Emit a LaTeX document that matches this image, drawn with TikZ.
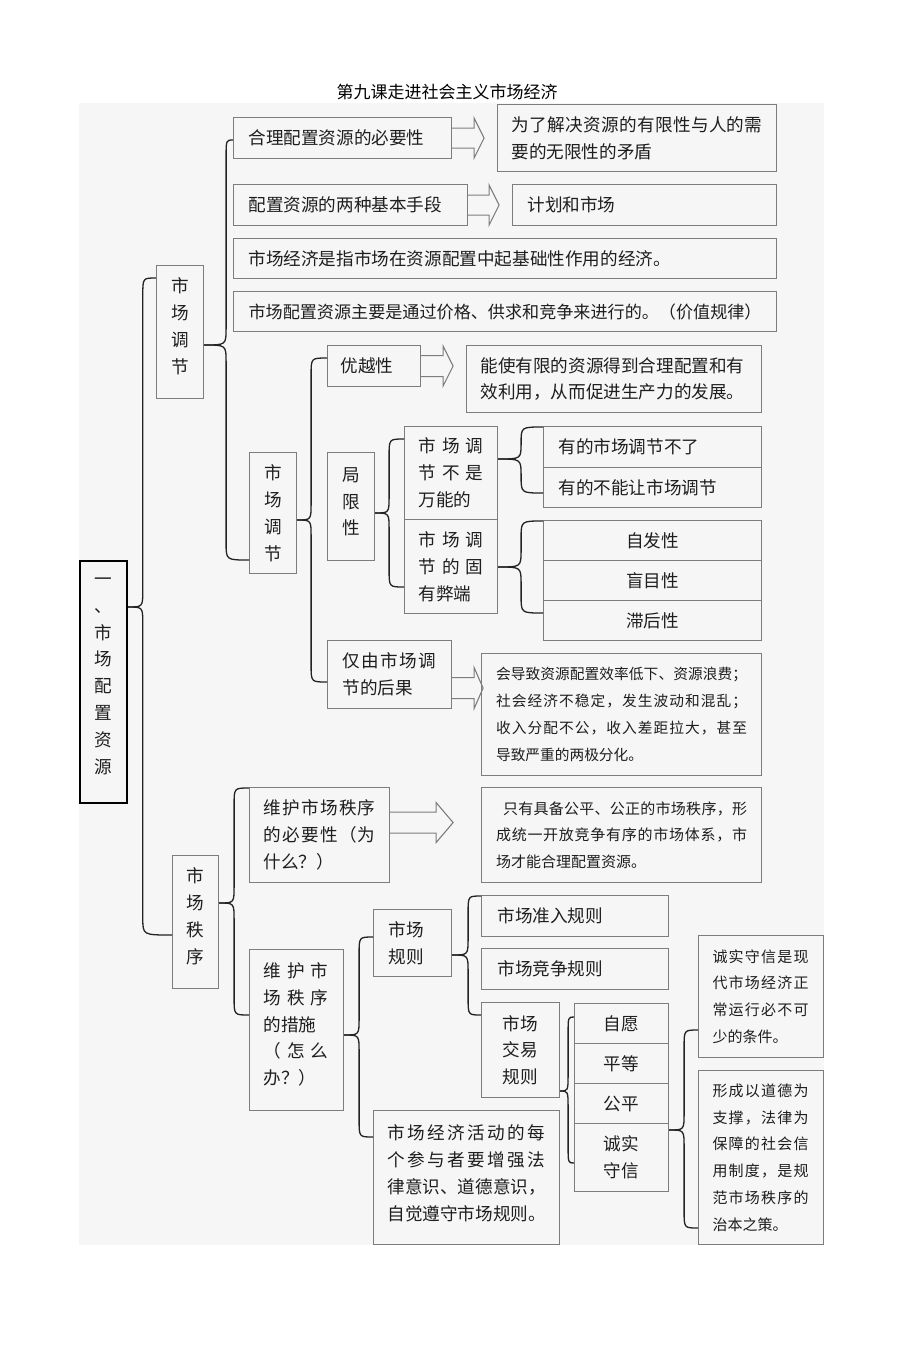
\documentclass[tikz,border=0pt]{standalone}
\usepackage{fontspec}
\setmainfont{Noto Sans CJK SC}
\usetikzlibrary{calc}
\setlength\parindent{0pt}
\definecolor{panel}{RGB}{246,246,246}
\definecolor{boxc}{RGB}{125,125,125}
\definecolor{txt}{RGB}{30,30,30}
\definecolor{brc}{RGB}{35,35,35}
\def\jsprA#1{#1\jsprB}
\def\jsprB#1{\ifx#1\relax\else\hfil#1\expandafter\jsprB\fi}
\newcommand\jspread[2]{\leavevmode\hbox to #1{\jsprA#2\relax}}
\newcommand\liftup[1]{\\[#1]\mbox{}}
\newcommand\fA{\fontsize{17.6pt}{26.8pt}\selectfont}
\newcommand\fB{\fontsize{15pt}{26.8pt}\selectfont}
\newcommand\barr[6]{\draw[barrow] ([yshift=#2pt]#1.east) ++(0,#5) -- ++(#3,0) -- ++(0,#6-#5) -- ++(#4,-#6) -- ++(-#4,-#6) -- ++(0,#6-#5) -- ++(-#3,0);}
\tikzset{
  tbox/.style={draw=boxc, line width=1.1pt, anchor=north west, inner ysep=0pt, align=left, text=txt, font=\fA},
  vbox/.style={tbox, align=center, inner xsep=0pt},
  brline/.style={draw=brc, line width=1.3pt},
  barrow/.style={draw=boxc, line width=1.1pt, line join=miter},
  arm/.style={to path={let \p1=(\tikztostart), \p2=(\tikztotarget),
      \n1={(\x1)+#1}, \n2={min(abs((\y2)-(\y1))/2,17)*sign((\y2)-(\y1))},
      \n3={(\y1)+(\n2)}, \n4={(\y2)-(\n2)} in
      (\p1) .. controls (\n1,\y1) .. (\n1,\n3) -- (\n1,\n4) .. controls (\n1,\y2) .. (\p2)}}
}
\begin{document}
\begin{tikzpicture}[x=1pt,y=1pt]
\useasboundingbox (0,0) rectangle (920,-1361);
\fill[white] (0,0) rectangle (920,-1361);
\fill[panel] (79,-103) rectangle (824,-1245);
\node[text=black, font=\fontsize{17pt}{20pt}\selectfont] (title) at (447,-92) {第九课走进社会主义市场经济};

% root and level 1
\node[vbox, draw=black, line width=1.8pt, text width=47pt, minimum height=242pt] (root) at (79,-560) {一\\、\\市\\场\\配\\置\\资\\源\liftup{-14pt}};
\node[vbox, text width=47pt, minimum height=133pt] (A) at (156,-265) {市\\场\\调\\节\liftup{-14pt}};
\node[vbox, text width=46pt, minimum height=133pt] (B) at (172,-855) {市\\场\\秩\\序\liftup{-14pt}};

% market regulation branch
\node[tbox, text width=188pt, inner xsep=15pt, minimum height=41pt] (a1) at (233,-117) {合理配置资源的必要性};
\node[tbox, text width=251pt, inner xsep=14pt, minimum height=67pt] (a1r) at (497,-104) {\jspread{251pt}{为了解决资源的有限性与人的需}\\要的无限性的矛盾};
\node[tbox, text width=204pt, inner xsep=15pt, minimum height=41pt] (a2) at (233,-184) {配置资源的两种基本手段};
\node[tbox, text width=234pt, inner xsep=15pt, minimum height=41pt] (a2r) at (512,-184) {计划和市场};
\node[tbox, text width=513pt, inner xsep=15pt, minimum height=40pt] (a3) at (233,-238) {市场经济是指市场在资源配置中起基础性作用的经济。};
\node[tbox, text width=513pt, inner xsep=15pt, minimum height=40pt, font=\fontsize{17.1pt}{26.8pt}\selectfont] (a4) at (233,-291) {市场配置资源主要是通过价格、供求和竞争来进行的。（价值规律）};
\node[vbox, text width=47pt, minimum height=121pt] (a5) at (249,-452) {市\\场\\调\\节};

\node[tbox, text width=67pt, inner xsep=13pt, minimum height=41pt] (b1) at (327,-345) {优越性};
\node[tbox, text width=267pt, inner xsep=14pt, minimum height=67pt] (b1r) at (466,-345) {能使有限的资源得到合理配置和有\\效利用，从而促进生产力的发展。};
\node[vbox, text width=47pt, minimum height=108pt] (b2) at (327,-452) {局\\限\\性\liftup{-16pt}};
\node[tbox, text width=65pt, inner xsep=14pt, minimum height=93pt] (c1) at (404,-426) {\jspread{65pt}{市场调}\\\jspread{65pt}{节不是}\\万能的};
\node[tbox, text width=65pt, inner xsep=14pt, minimum height=94pt] (c2) at (404,-519) {\jspread{65pt}{市场调}\\\jspread{65pt}{节的固}\\有弊端};
\node[tbox, text width=188pt, inner xsep=15pt, minimum height=41pt] (d1) at (543,-426) {有的市场调节不了};
\node[tbox, text width=188pt, inner xsep=15pt, minimum height=40pt] (d2) at (543,-467) {有的不能让市场调节};
\node[vbox, text width=218pt, minimum height=40pt] (e1) at (543,-520) {自发性};
\node[vbox, text width=218pt, minimum height=40pt] (e2) at (543,-560) {盲目性};
\node[vbox, text width=218pt, minimum height=40pt] (e3) at (543,-600) {滞后性};
\node[tbox, text width=94pt, inner xsep=15pt, minimum height=68pt] (b3) at (327,-640) {\jspread{94pt}{仅由市场调}\\节的后果};
\node[tbox, text width=251pt, inner xsep=14.5pt, minimum height=122pt, font=\fontsize{14.7pt}{26.8pt}\selectfont] (b3r) at (481,-653) {\jspread{251pt}{会导致资源配置效率低下、资源浪费；}\\\jspread{251pt}{社会经济不稳定，发生波动和混乱；}\\\jspread{251pt}{收入分配不公，收入差距拉大，甚至}\\导致严重的两极分化。};

% market order branch
\node[tbox, text width=112pt, inner xsep=14pt, minimum height=95pt] (f1) at (249,-787) {\jspread{112pt}{维护市场秩序}\\\jspread{112pt}{的必要性（为}\\什么？）};
\node[tbox, text width=251pt, inner xsep=14.5pt, minimum height=95pt, font=\fB] (f1r) at (481,-787) {\hspace*{7pt}\jspread{244pt}{只有具备公平、公正的市场秩序，形}\\\jspread{251pt}{成统一开放竞争有序的市场体系，市}\\场才能合理配置资源。};
\node[tbox, text width=66pt, inner xsep=14pt, minimum height=161pt] (f2) at (249,-949) {\jspread{65pt}{维护市}\\\jspread{65pt}{场秩序}\\的措施\\\jspread{65pt}{（怎么}\\办？）\liftup{-14pt}};
\node[tbox, text width=48pt, inner xsep=15pt, minimum height=67pt] (g1) at (373,-909) {市场\\规则};
\node[tbox, text width=158pt, inner xsep=14pt, minimum height=134pt] (g2) at (373,-1110) {\jspread{158pt}{市场经济活动的每}\\\jspread{158pt}{个参与者要增强法}\\律意识、道德意识，\\自觉遵守市场规则。\liftup{-17pt}};
\node[tbox, text width=155pt, inner xsep=16pt, minimum height=41pt] (h1) at (481,-895) {市场准入规则};
\node[tbox, text width=155pt, inner xsep=16pt, minimum height=41pt] (h2) at (481,-948) {市场竞争规则};
\node[vbox, text width=78pt, minimum height=95pt] (h3) at (481,-1002) {市场\\交易\\规则};
\node[vbox, text width=94pt, minimum height=40pt] (i1) at (574,-1003) {自愿};
\node[vbox, text width=94pt, minimum height=40pt] (i2) at (574,-1043) {平等};
\node[vbox, text width=94pt, minimum height=40pt] (i3) at (574,-1083) {公平};
\node[vbox, text width=94pt, minimum height=68pt] (i4) at (574,-1123) {诚实\\守信};
\node[tbox, text width=97pt, inner xsep=14pt, minimum height=122pt, font=\fB] (j1) at (698,-935) {\jspread{96pt}{诚实守信是现}\\\jspread{96pt}{代市场经济正}\\\jspread{96pt}{常运行必不可}\\少的条件。};
\node[tbox, text width=97pt, inner xsep=14pt, minimum height=174pt, font=\fB] (j2) at (698,-1070) {\jspread{96pt}{形成以道德为}\\\jspread{96pt}{支撑，法律为}\\\jspread{96pt}{保障的社会信}\\\jspread{96pt}{用制度，是规}\\\jspread{96pt}{范市场秩序的}\\治本之策。};

% braces
\draw[brline] ([yshift=-47pt]root.north east) to[arm=15] ([yshift=-13pt]A.north west);
\draw[brline] ([yshift=-47pt]root.north east) to[arm=15] ([yshift=-80pt]B.north west);
\draw[brline] ([yshift=-80pt]A.north east) to[arm=22] ([yshift=-23pt]a1.north west);
\draw[brline] ([yshift=-80pt]A.north east) to[arm=22] ([yshift=-108pt]a5.north west);
\draw[brline] ([yshift=-68pt]a5.north east) to[arm=14] ([yshift=-13pt]b1.north west);
\draw[brline] ([yshift=-68pt]a5.north east) to[arm=14] ([yshift=-42pt]b3.north west);
\draw[brline] ([yshift=-61pt]b2.north east) to[arm=14] ([yshift=-13pt]c1.north west);
\draw[brline] ([yshift=-61pt]b2.north east) to[arm=14] ([yshift=-68pt]c2.north west);
\draw[brline] ([yshift=-33pt]c1.north east) to[arm=23] ([yshift=-1pt]d1.north west);
\draw[brline] ([yshift=-33pt]c1.north east) to[arm=23] ([yshift=-26pt]d2.north west);
\draw[brline] ([yshift=-48pt]c2.north east) to[arm=23] ([yshift=-1pt]e1.north west);
\draw[brline] ([yshift=-48pt]c2.north east) to[arm=23] ([yshift=-13pt]e3.north west);
\draw[brline] ([yshift=-48pt]B.north east) to[arm=15] ([yshift=-1pt]f1.north west);
\draw[brline] ([yshift=-48pt]B.north east) to[arm=15] ([yshift=-66pt]f2.north west);
\draw[brline] ([yshift=-86pt]f2.north east) to[arm=15] ([yshift=-28pt]g1.north west);
\draw[brline] ([yshift=-86pt]f2.north east) to[arm=15] ([yshift=-27pt]g2.north west);
\draw[brline] ([yshift=-46pt]g1.north east) to[arm=16] ([yshift=-1pt]h1.north west);
\draw[brline] ([yshift=-46pt]g1.north east) to[arm=16] ([yshift=-13pt]h3.north west);
\draw[brline] ([yshift=-89pt]h3.north east) to[arm=8] ([yshift=-14pt]i1.north west);
\draw[brline] ([yshift=-89pt]h3.north east) to[arm=8] ([yshift=-40pt]i4.north west);
\draw[brline] ([yshift=-7pt]i4.north east) to[arm=15] ([yshift=-95pt]j1.north west);
\draw[brline] ([yshift=-7pt]i4.north east) to[arm=15] ([yshift=-158pt]j2.north west);

% block arrows
\barr{a1}{0}{22}{10}{10}{20}
\barr{a2}{0}{21}{10}{10}{20}
\barr{b1}{0}{22}{10}{10.5}{20}
\barr{b3}{-13.5}{22}{9}{10.5}{20.5}
\barr{f1}{12.5}{46}{17}{10.5}{20}
\end{tikzpicture}
\end{document}
